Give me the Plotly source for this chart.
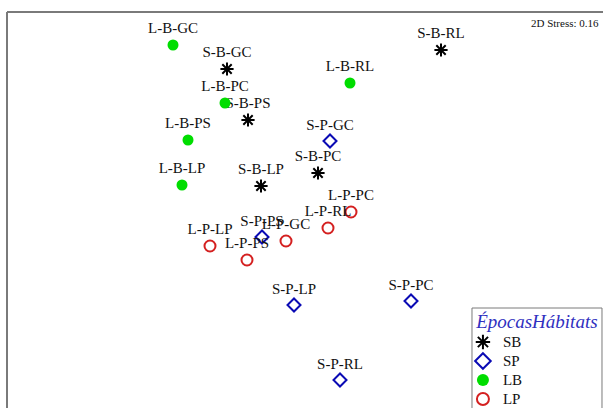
import plotly.graph_objects as go

# NMDS ordination scores (axis 1, axis 2) per season/habitat group
sites = ["GC", "PS", "LP", "PC", "RL"]

sb_x = [-0.73, -0.52, -0.39, 0.18, 1.41]
sb_y = [1.31, 0.80, 0.14, 0.27, 1.50]

sp_x = [0.30, -0.38, -0.06, 1.11, 0.40]
sp_y = [0.59, -0.37, -1.05, -1.01, -1.80]

lb_x = [-1.27, -1.12, -1.18, -0.75, 0.50]
lb_y = [1.55, 0.60, 0.15, 0.97, 1.17]

lp_x = [-0.14, -0.53, -0.90, 0.51, 0.28]
lp_y = [-0.41, -0.60, -0.46, -0.12, -0.28]

stress = 0.16

serif = "Liberation Serif"

groups = [
    ("SB", "S-B", sb_x, sb_y, dict(symbol="asterisk-open", size=11, color="#000000",
                                   line=dict(width=2, color="#000000"))),
    ("SP", "S-P", sp_x, sp_y, dict(symbol="diamond-open", size=10, color="#0a0ab4",
                                   line=dict(width=2, color="#0a0ab4"))),
    ("LB", "L-B", lb_x, lb_y, dict(symbol="circle", size=11, color="#00dd00",
                                   line=dict(width=0))),
    ("LP", "L-P", lp_x, lp_y, dict(symbol="circle-open", size=11, color="#d42020",
                                   line=dict(width=2, color="#d42020"))),
]

fig = go.Figure()
for name, prefix, xs, ys, marker in groups:
    fig.add_trace(go.Scatter(
        x=xs, y=ys,
        mode="markers+text",
        # legend rows are spaced by the (smaller) legend font; entry text is larger
        name=f'<span style="font-size:15px">{name}</span>',
        marker=marker,
        text=[f"{prefix}-{s}" for s in sites],
        textposition="top center",
        textfont=dict(family=serif, size=15, color="#111111"),
    ))

fig.add_annotation(
    x=1, y=1, xref="paper", yref="paper", xanchor="right", yanchor="top",
    yshift=-3, xshift=-2,
    text=f"2D Stress: {stress}", showarrow=False,
    font=dict(family=serif, size=11, color="#111111"),
)

# frame: left and top edges
fig.add_shape(type="line", xref="paper", yref="paper", x0=0, x1=0, y0=0, y1=1,
              line=dict(color="#7a7a7a", width=2))
fig.add_shape(type="line", xref="paper", yref="paper", x0=0, x1=1, y0=1, y1=1,
              line=dict(color="#7a7a7a", width=2))
# legend box
fig.add_shape(type="rect", xref="paper", yref="paper", x0=0.7802, x1=0.9983,
              y0=-0.02, y1=0.2525, layer="above",
              fillcolor="white", line=dict(color="#7a7a7a", width=1))

fig.update_layout(
    width=603, height=408,
    margin=dict(l=7, r=0, t=12, b=0, autoexpand=False),
    paper_bgcolor="white", plot_bgcolor="white",
    xaxis=dict(visible=False, range=[-2.93, 3.03]),
    yaxis=dict(visible=False, range=[-2.08, 1.88]),
    showlegend=True,
    legend=dict(
        x=0.765, y=0.2525, xanchor="left", yanchor="top",
        bgcolor="rgba(0,0,0,0)", borderwidth=0,
        font=dict(family=serif, size=12, color="#111111"),
        title=dict(text='&nbsp;&nbsp;&nbsp;<span style="font-size:19px">ÉpocasHábitats</span>',
                   font=dict(family=serif, size=15, color="#3030c0", style="italic")),
        itemsizing="constant",
        tracegroupgap=0,
    ),
)

fig.write_html("out.html")
